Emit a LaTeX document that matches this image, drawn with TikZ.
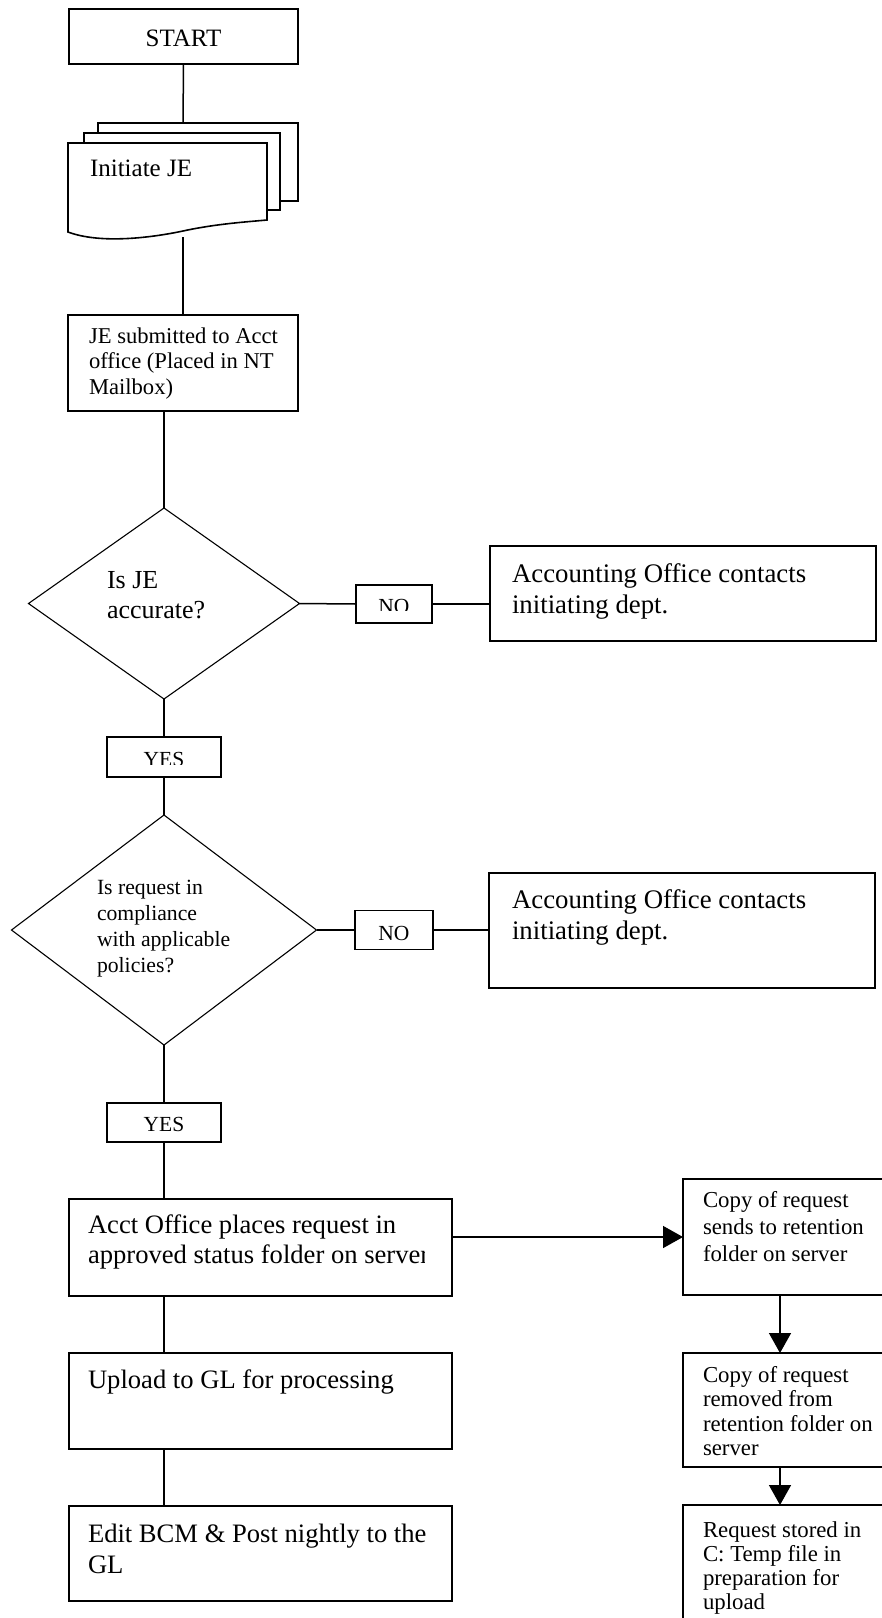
\documentclass[tikz,border=0pt]{standalone}
\usepackage{fontspec}
\setmainfont{Liberation Serif}
\usetikzlibrary{shapes.geometric,arrows.meta}
\newcommand\myfs[2]{\fontsize{#1}{#2}\selectfont}
\begin{document}
\begin{tikzpicture}[x=1pt,y=-1pt,
  box/.style={draw, line width=1.6pt, rectangle, inner sep=0pt, outer sep=0pt, fill=white},
  page/.style={draw, line width=1.6pt, fill=white},
  dia/.style={draw, line width=1.1pt, diamond, inner sep=0pt, outer sep=0pt},
  conn/.style={line width=1.5pt},
  arr/.style={line width=1.5pt, -{Triangle[length=20pt,width=22pt]}},
  txt/.style={inner sep=0pt, outer sep=0pt, anchor=base west},
  ctxt/.style={inner sep=0pt, outer sep=0pt, anchor=base},
]
\useasboundingbox (0,0) rectangle (882,1618);
\fill[white] (0,0) rectangle (882,1618);
\clip (0,0) rectangle (882,1618);

% ---- boxes ----
\node[box, minimum width=229pt, minimum height=55pt] (start) at (183.5,36.5) {};
\node[box, minimum width=230pt, minimum height=96pt] (je) at (183,363) {};
\node[dia, minimum width=271pt, minimum height=191pt] (d1) at (164,603.5) {};
\node[box, minimum width=76pt, minimum height=38pt] (no1) at (394,604) {};
\node[box, minimum width=386pt, minimum height=95pt] (acc1) at (683,593.5) {};
\node[box, minimum width=114pt, minimum height=40pt] (yes1) at (164,757) {};
\node[dia, minimum width=305pt, minimum height=230pt] (d2) at (164,930) {};
\node[box, minimum width=78pt, minimum height=39pt] (no2) at (394,930) {};
\node[box, minimum width=386pt, minimum height=115pt] (acc2) at (682,930.5) {};
\node[box, minimum width=114pt, minimum height=39pt] (yes2) at (164,1122.5) {};
\node[box, minimum width=383pt, minimum height=97pt] (acct) at (260.5,1247.5) {};
\node[box, minimum width=383pt, minimum height=96pt] (upload) at (260.5,1401) {};
\node[box, minimum width=383pt, minimum height=95pt] (edit) at (260.5,1553.5) {};
\node[box, minimum width=203pt, minimum height=116pt] (r1) at (784.5,1237) {};
\node[box, minimum width=203pt, minimum height=114pt] (r2) at (784.5,1410) {};
\node[box, minimum width=203pt, minimum height=135pt] (r3) at (784.5,1572.5) {};

% ---- multi-page document ----
\filldraw[page] (98,123) rectangle (298,201);
\filldraw[page] (84,133) rectangle (280,210);
\filldraw[page] (68,143) -- (267,143) -- (267,220)
  .. controls (245,222) and (215,224) .. (183,231)
  .. controls (150,238) and (100,244) .. (68,232) -- cycle;
\coordinate (doctop) at (183,123);
\coordinate (docbot) at (183,237);

% ---- connectors ----
\draw[conn] (start.south) -- (doctop);
\draw[conn] (docbot) -- (je.north);
\draw[conn] (je.south -| d1.north) -- (d1.north);
\draw[conn] (d1.east) -- (no1.west);
\draw[conn] (no1.east) -- (no1.east -| acc1.west);
\draw[conn] (d1.south) -- (yes1.north);
\draw[conn] (yes1.south) -- (d2.north);
\draw[conn] (d2.east) -- (no2.west);
\draw[conn] (no2.east) -- (no2.east -| acc2.west);
\draw[conn] (d2.south) -- (yes2.north);
\draw[conn] (yes2.south) -- (yes2.south |- acct.north);
\draw[conn] (acct.south -| yes2.south) -- (yes2.south |- upload.north);
\draw[conn] (upload.south -| yes2.south) -- (yes2.south |- edit.north);
\draw[arr] (acct.east |- r1.west) -- (r1.west);
\draw[arr] ([xshift=-4.5pt]r1.south) -- ([xshift=-4.5pt]r2.north);
\draw[arr] ([xshift=-4.5pt]r2.south) -- ([xshift=-4.5pt]r3.north);

% ---- texts ----
\node[ctxt] (startt) at (183.5,46) {\myfs{25}{30}START};
\node[txt] (initt) at (90,176) {\myfs{25}{30}Initiate JE};
\node[txt] (jet) at (89,343) {\parbox[t]{220pt}{\myfs{22.6}{25.5}JE submitted to Acct\\office (Placed in NT\\Mailbox)}};
\node[txt] (d1t) at (107,588) {\parbox[t]{160pt}{\myfs{26}{30}Is JE\\accurate?}};
\node[txt] (acc1t) at (512,582) {\parbox[t]{360pt}{\myfs{26.8}{31}Accounting Office contacts\\initiating dept.}};
\begin{scope}
  \clip (356,585) rectangle (432,610);
  \node[ctxt] (no1t) at (394,613) {\myfs{21.5}{26}NO};
\end{scope}
\begin{scope}
  \clip (107,737) rectangle (221,764);
  \node[ctxt] (yes1t) at (164,766) {\myfs{21.5}{26}YES};
\end{scope}
\node[txt] (d2t) at (97,894) {\parbox[t]{190pt}{\myfs{21.7}{26}Is request in\\compliance\\with applicable\\policies?}};
\node[ctxt] (no2t) at (394,940) {\myfs{21.5}{26}NO};
\node[txt] (acc2t) at (512,908) {\parbox[t]{360pt}{\myfs{26.8}{31}Accounting Office contacts\\initiating dept.}};
\node[ctxt] (yes2t) at (164,1131) {\myfs{21.5}{26}YES};
\begin{scope}
  \clip (69,1199) rectangle (424,1296);
  \node[txt] (acctt) at (88,1233) {\parbox[t]{420pt}{\myfs{26.6}{30}Acct Office places request in\\approved status folder on server}};
\end{scope}
\node[txt] (uploadt) at (88,1388) {\myfs{26.6}{30}Upload to GL for processing};
\node[txt] (editt) at (88,1542) {\parbox[t]{420pt}{\myfs{26.6}{31}Edit BCM \& Post nightly to the\\GL}};
\node[txt] (r1t) at (703,1207) {\parbox[t]{220pt}{\myfs{22.8}{27}Copy of request\\sends to retention\\folder on server}};
\node[txt] (r2t) at (703,1382) {\parbox[t]{220pt}{\myfs{22.8}{24.5}Copy of request\\removed from\\retention folder on\\server}};
\node[txt] (r3t) at (703,1537) {\parbox[t]{220pt}{\myfs{22.8}{24}Request stored in\\C: Temp file in\\preparation for\\upload}};
\end{tikzpicture}
\end{document}
